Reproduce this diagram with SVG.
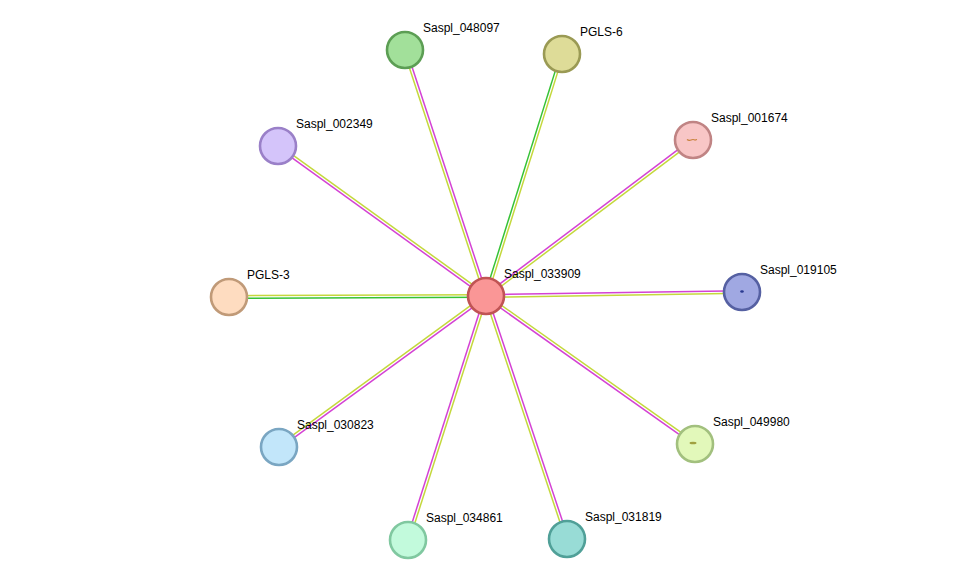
<svg xmlns="http://www.w3.org/2000/svg" width="975" height="585" viewBox="0 0 975 585">
<style>
.m{stroke:#d442d4;stroke-width:1.5;fill:none}
.y{stroke:#c4d83c;stroke-width:1.5;fill:none}
.g{stroke:#36c236;stroke-width:1.5;fill:none}
.n circle{stroke-width:2.6}
text{font-family:"Liberation Sans",Arial,sans-serif;font-size:12px;fill:#000}
</style>
<rect width="975" height="585" fill="#fff"/>
<g id="edges">
<line class="y" x1="484.7" y1="296.4" x2="403.7" y2="50.4"/>
<line class="m" x1="487.3" y1="295.6" x2="406.3" y2="49.6"/>
<line class="g" x1="484.7" y1="295.6" x2="560.7" y2="53.6"/>
<line class="y" x1="487.3" y1="296.4" x2="563.3" y2="54.4"/>
<line class="m" x1="485.2" y1="294.9" x2="692.2" y2="138.9"/>
<line class="y" x1="486.8" y1="297.1" x2="693.8" y2="141.1"/>
<line class="y" x1="486.8" y1="294.9" x2="278.8" y2="144.9"/>
<line class="m" x1="485.2" y1="297.1" x2="277.2" y2="147.1"/>
<line class="y" x1="486" y1="294.7" x2="229" y2="295.7"/>
<line class="g" x1="486" y1="297.3" x2="229" y2="298.3"/>
<line class="m" x1="486" y1="294.7" x2="742" y2="290.7"/>
<line class="y" x1="486" y1="297.3" x2="742" y2="293.3"/>
<line class="y" x1="486.8" y1="294.9" x2="695.8" y2="442.9"/>
<line class="m" x1="485.2" y1="297.1" x2="694.2" y2="445.1"/>
<line class="y" x1="485.2" y1="294.9" x2="278.2" y2="445.9"/>
<line class="m" x1="486.8" y1="297.1" x2="279.8" y2="448.1"/>
<line class="y" x1="487.3" y1="296.4" x2="409.3" y2="540.4"/>
<line class="m" x1="484.7" y1="295.6" x2="406.7" y2="539.6"/>
<line class="m" x1="487.3" y1="295.6" x2="568.3" y2="538.6"/>
<line class="y" x1="484.7" y1="296.4" x2="565.7" y2="539.4"/>
</g>
<g id="Saspl_033909" class="n"><circle cx="486" cy="296" r="18" fill="#fa9696" stroke="#c05454"/><text x="504" y="278">Saspl_033909</text></g>
<g id="Saspl_048097" class="n"><circle cx="405" cy="50" r="18" fill="#a2e09a" stroke="#5c9e54"/><text x="423" y="32">Saspl_048097</text></g>
<g id="PGLS-6" class="n"><circle cx="562" cy="54" r="18" fill="#dedc98" stroke="#9a9a54"/><text x="580" y="36">PGLS-6</text></g>
<g id="Saspl_001674" class="n"><circle cx="693" cy="140" r="18" fill="#f8c6c6" stroke="#c08484"/><path d="M687 139.5 q2 1.5 4 0.5 q2 -1 4 0 l2 -0.5" stroke="#c8803a" stroke-width="1.2" fill="none"/><text x="711" y="122">Saspl_001674</text></g>
<g id="Saspl_002349" class="n"><circle cx="278" cy="146" r="18" fill="#d4c4fa" stroke="#9a80c8"/><text x="296" y="128">Saspl_002349</text></g>
<g id="PGLS-3" class="n"><circle cx="229" cy="297" r="18" fill="#fedcc0" stroke="#c09a78"/><text x="247" y="279">PGLS-3</text></g>
<g id="Saspl_019105" class="n"><circle cx="742" cy="292" r="18" fill="#a0a8e2" stroke="#5560a2"/><ellipse cx="742" cy="291.5" rx="1.8" ry="1.2" fill="#2a3a90"/><text x="760" y="274">Saspl_019105</text></g>
<g id="Saspl_049980" class="n"><circle cx="695" cy="444" r="18" fill="#e2f8ba" stroke="#a2c07e"/><ellipse cx="693" cy="443" rx="3.5" ry="1.3" fill="#a0a040"/><text x="713" y="426">Saspl_049980</text></g>
<g id="Saspl_030823" class="n"><circle cx="279" cy="447" r="18" fill="#c2e6fa" stroke="#7aa6c2"/><text x="297" y="429">Saspl_030823</text></g>
<g id="Saspl_034861" class="n"><circle cx="408" cy="540" r="18" fill="#c2fadc" stroke="#80c8a0"/><text x="426" y="522">Saspl_034861</text></g>
<g id="Saspl_031819" class="n"><circle cx="567" cy="539" r="18" fill="#98dcd6" stroke="#50a098"/><text x="585" y="521">Saspl_031819</text></g>
</svg>
